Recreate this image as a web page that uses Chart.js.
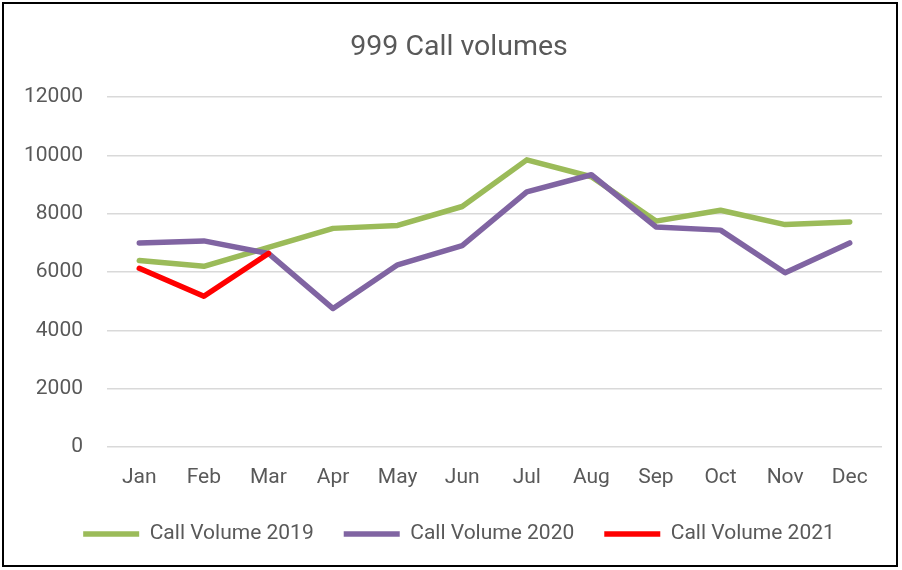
<!DOCTYPE html>
<html>
<head>
<meta charset="utf-8">
<script src="https://cdn.jsdelivr.net/npm/chart.js@4.4.1/dist/chart.umd.min.js"></script>
<style>
  html, body { margin: 0; padding: 0; background: #fff; }
  #wrap { width: 902px; height: 570px; position: relative; }
</style>
</head>
<body>
<div id="wrap"><canvas id="callchart" width="902" height="570"></canvas></div>
<script>
// data
var months = ["Jan", "Feb", "Mar", "Apr", "May", "Jun", "Jul", "Aug", "Sep", "Oct", "Nov", "Dec"];
var vol2019 = [6400, 6200, 6850, 7500, 7600, 8250, 9850, 9270, 7750, 8120, 7630, 7720];
var vol2020 = [7000, 7070, 6640, 4750, 6250, 6910, 8750, 9340, 7550, 7440, 5980, 7000];
var vol2021 = [6130, 5170, 6640];
var yTicks = [0, 2000, 4000, 6000, 8000, 10000, 12000];

var textGrey = '#595959';
var fontName = 'Roboto';

// frame round the whole chart, like the excel chart border
var framePlugin = {
	id: 'frame',
	afterLayout: function (chart) {
		// excel centres title and legend a bit to the right of the canvas middle
		var shift = 18;
		[chart.titleBlock, chart.legend].forEach(function (box) {
			if (box) { box.left += shift; box.right += shift; }
		});
	},
	afterDraw: function (chart) {
		var c = chart.ctx;
		c.save();
		c.strokeStyle = '#000';
		c.lineWidth = 2;
		c.strokeRect(3, 3, 894, 563);
		c.restore();
	}
};

function lineSet(label, values, colour, order) {
	return {
		label: label,
		data: values,
		borderColor: colour,
		backgroundColor: colour,
		borderWidth: 5.5,
		borderCapStyle: 'round',
		borderJoinStyle: 'round',
		pointRadius: 0,
		pointHoverRadius: 0,
		tension: 0,
		fill: false,
		order: order
	};
}

var ctx = document.getElementById("callchart");
var callchart = new Chart(ctx, {
	type: 'line',
	data: {
		labels: months,
		datasets: [
			lineSet('Call Volume 2019', vol2019, '#9BBB59', 3),
			lineSet('Call Volume 2020', vol2020, '#8064A2', 2),
			lineSet('Call Volume 2021', vol2021, '#FF0000', 1)
		]
	},
	options: {
		responsive: false,
		animation: false,
		layout: {
			padding: { left: 0, right: 20, top: 0, bottom: 15.5 }
		},
		plugins: {
			title: {
				display: true,
				text: '999 Call volumes',
				color: textGrey,
				font: { family: fontName, size: 28.5, weight: 'normal' },
				padding: { top: 31, bottom: 32 }
			},
			legend: {
				position: 'bottom',
				labels: {
					color: textGrey,
					font: { family: fontName, size: 21 },
					usePointStyle: true,
					pointStyle: 'line',
					pointStyleWidth: 56,
					boxHeight: 21,
					padding: 30,
					sort: function (a, b) { return a.datasetIndex - b.datasetIndex; }
				}
			},
			tooltip: { enabled: false }
		},
		scales: {
			x: {
				offset: true,
				grid: { display: false, drawTicks: false },
				border: { display: false },
				ticks: {
					color: textGrey,
					font: { family: fontName, size: 21 },
					padding: 18,
					maxRotation: 0
				},
				afterFit: function (axis) { axis.height = 46.5; }
			},
			y: {
				min: 0,
				max: 12000,
				afterBuildTicks: function (axis) {
					axis.ticks = yTicks.map(function (v) { return { value: v }; });
				},
				grid: { color: '#D9D9D9', lineWidth: 1.5, drawTicks: false },
				border: { display: false },
				ticks: {
					color: textGrey,
					font: { family: fontName, size: 21 },
					padding: 24,
					callback: function (v) { return String(v); }
				},
				afterFit: function (axis) { axis.width = 107; }
			}
		}
	},
	plugins: [framePlugin]
});
</script>
</body>
</html>
